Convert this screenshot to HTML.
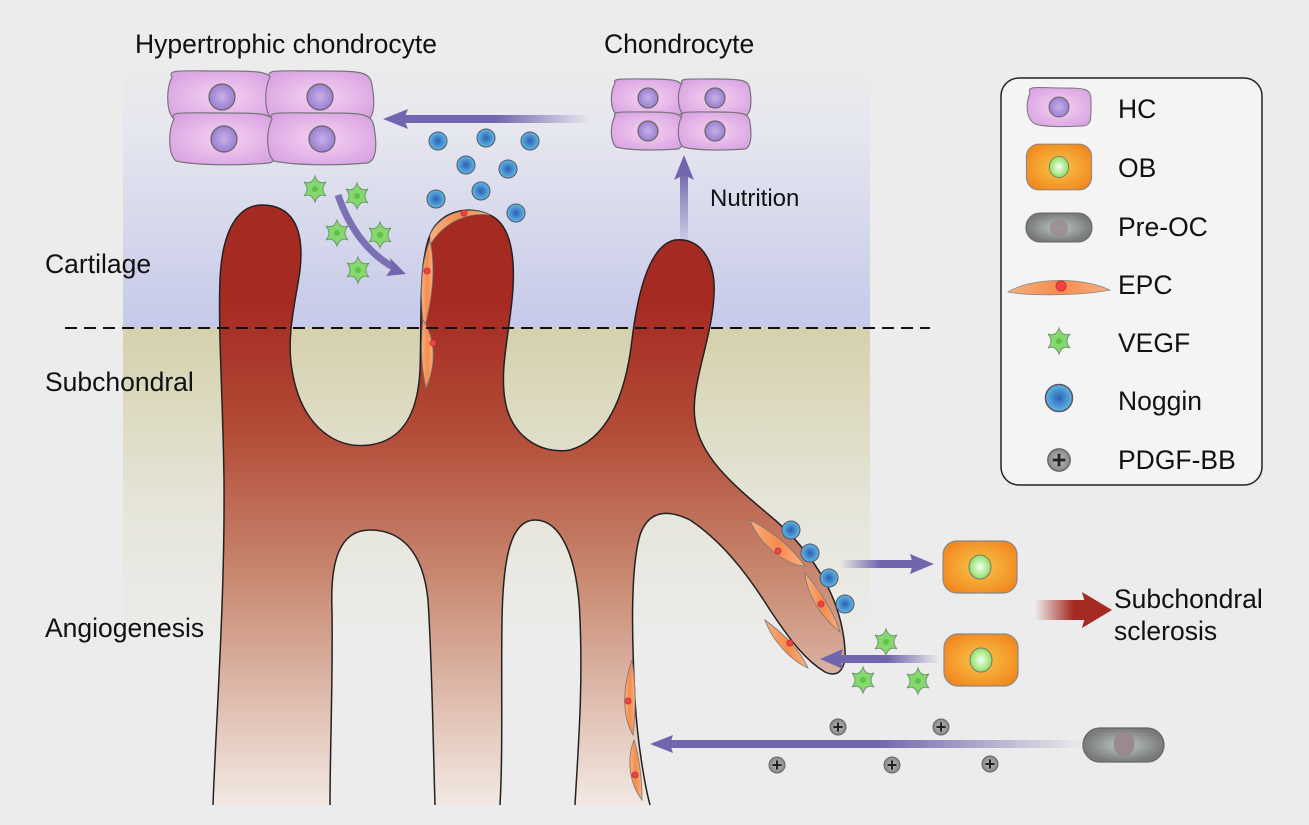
<!DOCTYPE html>
<html><head><meta charset="utf-8"><style>
html,body{margin:0;padding:0;background:#ececec;}
svg{display:block;font-family:"Liberation Sans",Arial,sans-serif;}
</style></head><body>
<svg width="1309" height="825" viewBox="0 0 1309 825" xmlns="http://www.w3.org/2000/svg">
<defs>
<linearGradient id="cart" x1="0" y1="0" x2="0" y2="1">
<stop offset="0" stop-color="#ececec"/><stop offset="0.25" stop-color="#e6e7ef"/><stop offset="1" stop-color="#c6c9e9"/></linearGradient>
<linearGradient id="sub" x1="0" y1="0" x2="0" y2="1">
<stop offset="0" stop-color="#d5d1ad"/><stop offset="0.6" stop-color="#e7e6dc"/><stop offset="1" stop-color="#ececec"/></linearGradient>
<linearGradient id="ves" gradientUnits="userSpaceOnUse" x1="0" y1="300" x2="0" y2="810">
<stop offset="0" stop-color="#a52a22"/><stop offset="0.25" stop-color="#b24a36"/><stop offset="0.55" stop-color="#c98a72"/><stop offset="1" stop-color="#f3ebe6"/></linearGradient>
<radialGradient id="ghc" cx="0.5" cy="0.5" r="0.6"><stop offset="0" stop-color="#f6d3f0"/><stop offset="1" stop-color="#d9a2e3"/></radialGradient>
<radialGradient id="gnuc" cx="0.5" cy="0.5" r="0.5"><stop offset="0" stop-color="#c8b0e8"/><stop offset="1" stop-color="#9a7fd0"/></radialGradient>
<radialGradient id="gob" cx="0.5" cy="0.5" r="0.6"><stop offset="0" stop-color="#f6c64a"/><stop offset="1" stop-color="#f3861c"/></radialGradient>
<radialGradient id="gobn" cx="0.5" cy="0.5" r="0.5"><stop offset="0" stop-color="#f4fff4"/><stop offset="1" stop-color="#8ee060"/></radialGradient>
<radialGradient id="gnog" cx="0.5" cy="0.5" r="0.5"><stop offset="0" stop-color="#2d5fb6"/><stop offset="1" stop-color="#5fb8e2"/></radialGradient>
<radialGradient id="gpd" cx="0.5" cy="0.5" r="0.5"><stop offset="0" stop-color="#bbb"/><stop offset="1" stop-color="#888"/></radialGradient>
<radialGradient id="gpoc" cx="0.5" cy="0.5" r="0.5"><stop offset="0" stop-color="#b9c9c4"/><stop offset="1" stop-color="#7a7a7a"/></radialGradient>
<linearGradient id="epc" x1="0" y1="0" x2="1" y2="0"><stop offset="0" stop-color="#f9b080"/><stop offset="0.5" stop-color="#f58c4c"/><stop offset="1" stop-color="#f9b080"/></linearGradient>
<linearGradient id="arL" x1="0" y1="0" x2="1" y2="0"><stop offset="0" stop-color="#7165ad"/><stop offset="0.5" stop-color="#7165ad"/><stop offset="1" stop-color="#7165ad" stop-opacity="0"/></linearGradient>
<linearGradient id="arR" x1="1" y1="0" x2="0" y2="0"><stop offset="0" stop-color="#7165ad"/><stop offset="0.5" stop-color="#7165ad"/><stop offset="1" stop-color="#7165ad" stop-opacity="0"/></linearGradient>
<linearGradient id="arU" x1="0" y1="0" x2="0" y2="1"><stop offset="0" stop-color="#7165ad"/><stop offset="1" stop-color="#7165ad" stop-opacity="0.1"/></linearGradient>
<linearGradient id="red" x1="0" y1="0" x2="1" y2="0"><stop offset="0" stop-color="#a52a22" stop-opacity="0"/><stop offset="0.7" stop-color="#a52a22"/></linearGradient>
<g id="cell"><path d="M-50,-20 C-55,-28 -40,-26 0,-26 C40,-26 50,-26 52,-12 C55,5 55,22 45,24 C10,27 -30,26 -48,22 C-56,15 -56,-8 -50,-20Z" fill="url(#ghc)" stroke="#777" stroke-width="1.2"/><circle cx="0" cy="0" r="13" fill="url(#gnuc)" stroke="#666" stroke-width="1.2"/></g>
<g id="cellS"><path d="M-33,-15 C-36,-20 -25,-19 0,-19 C28,-19 34,-18 35,-8 C37,5 36,16 30,18 C5,20 -22,19 -32,16 C-38,10 -38,-6 -33,-15Z" fill="url(#ghc)" stroke="#777" stroke-width="1.2"/><circle cx="0" cy="0" r="10" fill="url(#gnuc)" stroke="#666" stroke-width="1.2"/></g>
<g id="nog"><circle r="9" fill="url(#gnog)" stroke="#556" stroke-width="1"/></g>
<g id="pd"><circle r="8" fill="url(#gpd)" stroke="#666" stroke-width="1"/><path d="M-4.5,0H4.5M0,-4.5V4.5" stroke="#222" stroke-width="2"/></g>
<g id="vegf"><path d="M0,-13 Q3,-4 11,-7 Q5,0 11,7 Q3,4 0,13 Q-3,4 -11,7 Q-5,0 -11,-7 Q-3,-4 0,-13Z" fill="#86d86e" stroke="#6e9a6e" stroke-width="1"/><circle r="3" fill="#5fc14a"/></g>
<g id="ob"><rect x="-37" y="-26" width="74" height="52" rx="14" fill="url(#gob)" stroke="#888" stroke-width="1.2"/><ellipse rx="11" ry="12" fill="url(#gobn)" stroke="#777" stroke-width="1"/></g>
</defs>

<rect x="123" y="60" width="747" height="268" fill="url(#cart)"/>
<rect x="123" y="328" width="747" height="320" fill="url(#sub)"/>

<path d="M213,805 C216,720 225,600 224,480 C223,400 218,330 220,280 C222,230 238,205 262,205 C290,205 305,225 300,270 C296,300 286,335 292,370 C300,420 330,450 370,445 C405,440 418,410 420,370 C422,320 418,265 430,235 C440,210 470,205 490,215 C512,225 516,260 512,300 C508,340 500,370 505,400 C510,435 540,455 570,450 C605,440 625,400 632,340 C638,290 650,245 675,240 C700,237 716,260 714,295 C712,340 690,385 695,420 C700,460 740,490 775,520 C815,555 842,600 845,650 C846,670 838,678 825,672 C805,660 790,640 770,610 C745,570 720,540 690,520 C665,508 648,512 640,535 C630,570 632,640 635,700 C638,750 646,790 650,805 L575,805 C578,750 583,690 580,620 C578,555 560,520 535,520 C510,520 503,560 502,620 C501,690 503,750 500,805 L435,805 C433,740 432,660 428,600 C423,550 400,530 370,530 C340,530 330,560 332,610 C333,680 330,750 330,805 Z" fill="url(#ves)" stroke="none"/>
<path d="M213,805 C216,720 225,600 224,480 C223,400 218,330 220,280 C222,230 238,205 262,205 C290,205 305,225 300,270 C296,300 286,335 292,370 C300,420 330,450 370,445 C405,440 418,410 420,370 C422,320 418,265 430,235 C440,210 470,205 490,215 C512,225 516,260 512,300 C508,340 500,370 505,400 C510,435 540,455 570,450 C605,440 625,400 632,340 C638,290 650,245 675,240 C700,237 716,260 714,295 C712,340 690,385 695,420 C700,460 740,490 775,520 C815,555 842,600 845,650 C846,670 838,678 825,672 C805,660 790,640 770,610 C745,570 720,540 690,520 C665,508 648,512 640,535 C630,570 632,640 635,700 C638,750 646,790 650,805" fill="none" stroke="#222" stroke-width="1.5"/>
<path d="M575,805 C578,750 583,690 580,620 C578,555 560,520 535,520 C510,520 503,560 502,620 C501,690 503,750 500,805" fill="none" stroke="#222" stroke-width="1.5"/>
<path d="M435,805 C433,740 432,660 428,600 C423,550 400,530 370,530 C340,530 330,560 332,610 C333,680 330,750 330,805" fill="none" stroke="#222" stroke-width="1.5"/>

<path d="M430,235 C440,212 470,205 490,215 C470,212 445,220 430,245Z" fill="url(#epc)" stroke="#777" stroke-width="0.8"/>
<path d="M430,240 C420,265 420,300 424,330 C432,300 436,270 430,240Z" fill="url(#epc)" stroke="#777" stroke-width="0.8"/>
<path d="M423,320 C420,350 422,370 426,388 C436,365 436,340 423,320Z" fill="url(#epc)" stroke="#777" stroke-width="0.8"/>
<circle cx="464" cy="213" r="3" fill="#e44" stroke="#c33"/><circle cx="427" cy="271" r="3" fill="#e44" stroke="#c33"/><circle cx="433" cy="343" r="3" fill="#e44" stroke="#c33"/>
<path d="M750,520 C770,530 790,545 805,566 C785,565 760,545 750,520Z" fill="url(#epc)" stroke="#777" stroke-width="0.8"/>
<path d="M805,573 C820,590 835,615 840,632 C825,620 808,600 805,573Z" fill="url(#epc)" stroke="#777" stroke-width="0.8"/>
<path d="M765,620 C785,635 800,650 808,668 C790,660 772,640 765,620Z" fill="url(#epc)" stroke="#777" stroke-width="0.8"/>
<circle cx="778" cy="551" r="3" fill="#e44" stroke="#c33"/><circle cx="821" cy="604" r="3" fill="#e44" stroke="#c33"/><circle cx="790" cy="643" r="3" fill="#e44" stroke="#c33"/>
<path d="M632,660 C622,690 622,715 633,735 C636,710 636,685 632,660Z" fill="url(#epc)" stroke="#777" stroke-width="0.8"/>
<path d="M634,740 C626,760 630,785 642,800 C642,780 640,760 634,740Z" fill="url(#epc)" stroke="#777" stroke-width="0.8"/>
<circle cx="628" cy="701" r="3" fill="#e44" stroke="#c33"/><circle cx="635" cy="775" r="3" fill="#e44" stroke="#c33"/>

<line x1="65" y1="328" x2="930" y2="328" stroke="#111" stroke-width="2" stroke-dasharray="12,7"/>

<use href="#cell" x="222" y="97"/><use href="#cell" x="320" y="97"/>
<use href="#cell" x="224" y="139"/><use href="#cell" x="322" y="139"/>
<use href="#cellS" x="648" y="98"/><use href="#cellS" x="715" y="98"/>
<use href="#cellS" x="648" y="131"/><use href="#cellS" x="715" y="131"/>

<rect x="400" y="115" width="190" height="8" fill="url(#arL)"/>
<path d="M383,119 L408,109 L404,119 L408,129Z" fill="#7165ad"/>
<rect x="680" y="170" width="8" height="70" fill="url(#arU)"/>
<path d="M684,155 L694,180 L684,175 L674,180Z" fill="#7165ad"/>
<path d="M338,195 C350,230 370,255 395,268" fill="none" stroke="#7165ad" stroke-width="7" stroke-opacity="0.9"/>
<path d="M406,274 L386,276 L392,268 L390,258Z" fill="#7165ad"/>
<rect x="840" y="560" width="80" height="8" fill="url(#arR)"/>
<path d="M934,564 L910,554 L913,564 L910,574Z" fill="#7165ad"/>
<rect x="835" y="655" width="105" height="8" fill="url(#arL)"/>
<path d="M820,659 L843,649 L840,659 L843,669Z" fill="#7165ad"/>
<rect x="665" y="740" width="420" height="8" fill="url(#arL)"/>
<path d="M650,744 L673,735 L670,744 L673,753Z" fill="#7165ad"/>
<rect x="1035" y="600" width="55" height="20" fill="url(#red)"/>
<path d="M1112,610 L1082,592 L1087,610 L1082,628Z" fill="#a52a22"/>

<use href="#nog" x="438" y="141"/><use href="#nog" x="486" y="138"/><use href="#nog" x="530" y="141"/>
<use href="#nog" x="466" y="165"/><use href="#nog" x="508" y="169"/><use href="#nog" x="481" y="191"/>
<use href="#nog" x="436" y="199"/><use href="#nog" x="516" y="213"/>
<use href="#vegf" x="315" y="189"/><use href="#vegf" x="357" y="196"/><use href="#vegf" x="337" y="233"/>
<use href="#vegf" x="380" y="235"/><use href="#vegf" x="358" y="270"/>
<use href="#nog" x="791" y="530"/><use href="#nog" x="810" y="553"/><use href="#nog" x="829" y="578"/><use href="#nog" x="845" y="604"/>
<use href="#vegf" x="886" y="642"/><use href="#vegf" x="863" y="680"/><use href="#vegf" x="918" y="681"/>
<use href="#pd" x="838" y="727"/><use href="#pd" x="941" y="727"/><use href="#pd" x="777" y="765"/><use href="#pd" x="892" y="765"/><use href="#pd" x="990" y="764"/>
<use href="#ob" x="980" y="567"/><use href="#ob" x="981" y="660"/>
<rect x="1083" y="728" width="81" height="34" rx="17" fill="url(#gpoc)" stroke="#666" stroke-width="1.2"/>
<ellipse cx="1124" cy="744" rx="10" ry="12" fill="#9a8a90" stroke="#888" stroke-opacity="0.5"/>

<g font-size="26.5" fill="#111">
<text x="135" y="53">Hypertrophic chondrocyte</text>
<text x="604" y="53">Chondrocyte</text>
<text x="710" y="206" font-size="24">Nutrition</text>
<text x="45" y="273">Cartilage</text>
<text x="45" y="391">Subchondral</text>
<text x="45" y="637">Angiogenesis</text>
<text x="1114" y="608">Subchondral</text>
<text x="1114" y="640">sclerosis</text>
</g>

<rect x="1001" y="78" width="261" height="407" rx="18" fill="#f4f4f4" stroke="#222" stroke-width="1.5"/>
<path d="M1030,93 C1026,85 1040,88 1060,88 C1085,88 1091,88 1091,100 C1091,120 1092,126 1082,126 C1060,127 1045,127 1035,124 C1025,118 1026,102 1030,93Z" fill="url(#ghc)" stroke="#777"/>
<circle cx="1059" cy="107" r="10" fill="url(#gnuc)" stroke="#666"/>
<g transform="translate(1059,167) scale(0.88)"><use href="#ob"/></g>
<rect x="1026" y="213" width="66" height="29" rx="14" fill="url(#gpoc)" stroke="#666"/>
<circle cx="1059" cy="228" r="9" fill="#9a8a90" fill-opacity="0.8"/>
<path d="M1008,292 C1030,278 1080,276 1110,290 C1080,296 1030,296 1008,292Z" fill="url(#epc)" stroke="#888" stroke-width="0.8"/>
<circle cx="1061" cy="286" r="5" fill="#e44" stroke="#c33"/>
<use href="#vegf" x="1059" y="341"/>
<g transform="translate(1059,398) scale(1.5)"><use href="#nog"/></g>
<g transform="translate(1059,460) scale(1.4)"><use href="#pd"/></g>
<g font-size="26.5" fill="#111">
<text x="1118" y="118">HC</text>
<text x="1118" y="177">OB</text>
<text x="1118" y="236">Pre-OC</text>
<text x="1118" y="294">EPC</text>
<text x="1118" y="352">VEGF</text>
<text x="1118" y="410">Noggin</text>
<text x="1118" y="469">PDGF-BB</text>
</g>
</svg>
</body></html>
